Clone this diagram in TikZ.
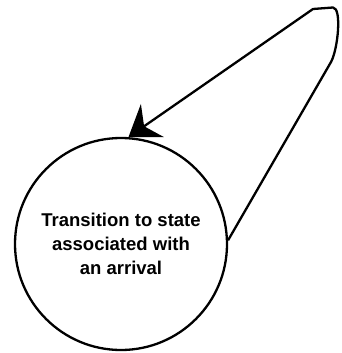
\documentclass[tikz,border=0pt]{standalone}
\usepackage{fontspec}
\setmainfont{Liberation Sans}
\usetikzlibrary{arrows.meta}
\begin{document}
\begin{tikzpicture}[x=1pt,y=-1pt,
  state/.style={circle,draw,line width=2.3pt,minimum size=212pt,inner sep=0pt,
    font=\bfseries\fontsize{18.5}{24}\selectfont,align=center},
  conn/.style={line width=2.3pt,line join=round,-{Stealth[length=29pt,width=40pt,inset=10pt]}}]
\useasboundingbox (0,0) rectangle (341,353);
\node[state] (s) at (121,244) {Transition to state\\associated with\\an arrival};
\coordinate (r) at (331,62);
\coordinate (c) at (333,7.5);
\coordinate (t) at (313,9);
\draw[conn] (s.2) -- (r) .. controls (338,49) and (342,8) .. (c) -- (t) -- (s.86);
\end{tikzpicture}
\end{document}
